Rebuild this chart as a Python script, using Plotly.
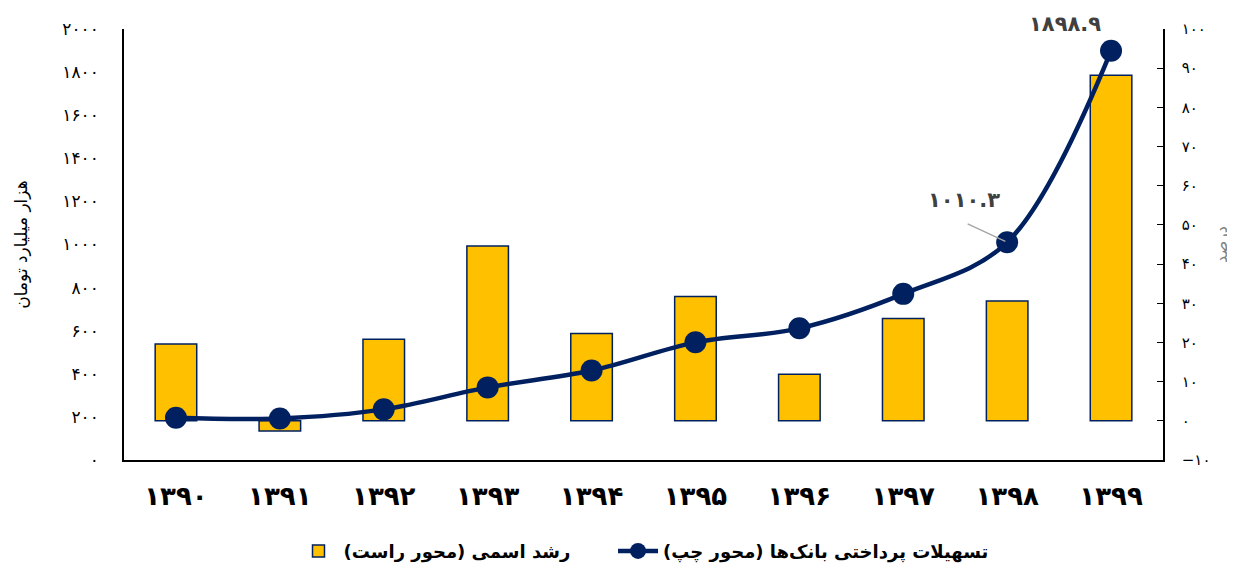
import plotly.graph_objects as go

P = str.maketrans("0123456789", "۰۱۲۳۴۵۶۷۸۹")

def fa(s):
    return str(s).translate(P)

years = ["1390", "1391", "1392", "1393", "1394", "1395", "1396", "1397", "1398", "1399"]
growth = [19.6, -2.6, 20.8, 44.6, 22.3, 31.7, 11.9, 26.1, 30.6, 88.2]
loans = [196, 193, 235, 337, 415, 546, 611, 771, 1010.3, 1898.9]

left_ticks = [0, 200, 400, 600, 800, 1000, 1200, 1400, 1600, 1800, 2000]
right_ticks = [-10, 0, 10, 20, 30, 40, 50, 60, 70, 80, 90, 100]
left_labels = [fa(v) for v in left_ticks]
right_labels = [("−" + fa(-v)) if v < 0 else fa(v) for v in right_ticks]

cats = [fa(y) for y in years]

NAVY = "#002060"
GOLD = "#FFC000"
FONT = "DejaVu Sans"

fig = go.Figure()
fig.add_trace(go.Bar(
    x=cats, y=growth, name="رشد اسمی (محور راست)" + "\u00a0" * 6,
    marker=dict(color=GOLD, line=dict(color=NAVY, width=1.5)),
    width=0.4, yaxis="y",
))
fig.add_trace(go.Scatter(
    x=cats, y=loans, name="تسهیلات پرداختی بانک‌ها (محور چپ)",
    mode="lines+markers", line=dict(color=NAVY, width=4.5, shape="spline", smoothing=1),
    marker=dict(color=NAVY, size=22), yaxis="y2",
))

fig.add_annotation(x=cats[9], y=loans[9], xref="x", yref="y2", text=fa("1898.9"),
                   showarrow=False, xshift=-46, yshift=27,
                   font=dict(family=FONT, size=21, color="#404040", weight="bold"))
fig.add_annotation(x=cats[8], y=loans[8], xref="x", yref="y2", text=fa("1010.3"),
                   showarrow=False, xshift=-43, yshift=42,
                   font=dict(family=FONT, size=21, color="#404040", weight="bold"))
fig.add_annotation(x=cats[8], y=loans[8], xref="x", yref="y2", text=" ",
                   showarrow=True, arrowhead=0, arrowwidth=1.5, arrowcolor="#A6A6A6",
                   ax=-43, ay=-20, standoff=2)

fig.update_layout(
    width=1235, height=567,
    margin=dict(l=116, r=80, t=21, b=115),
    plot_bgcolor="white", paper_bgcolor="white",
    font=dict(family=FONT, color="black"),
    xaxis=dict(type="category", range=[-0.5, 9.5], showline=True, linecolor="black", linewidth=1.5,
               ticks="", showgrid=False,
               tickfont=dict(family=FONT, size=26, color="black", weight="bold"),
               ticklabelstandoff=12),
    yaxis=dict(side="right", range=[-10, 100], tickvals=right_ticks, ticktext=right_labels,
               showline=True, linecolor="black", linewidth=1.5, ticks="inside", ticklen=6,
               tickcolor="black", showgrid=False, zeroline=False, ticklabelstandoff=14,
               tickfont=dict(family=FONT, size=15, color="black"),
               title=dict(text="درصد", font=dict(family=FONT, size=16, color="#7F7F7F"), standoff=6)),
    yaxis2=dict(side="left", overlaying="y", range=[0, 2000], tickvals=left_ticks, ticktext=left_labels,
                showline=True, linecolor="black", linewidth=1.5, ticks="", showgrid=False,
                zeroline=False, ticklabelstandoff=20,
                tickfont=dict(family=FONT, size=17, color="black"),
                title=dict(text="هزار میلیارد تومان", font=dict(family=FONT, size=17, color="black"), standoff=30)),
    legend=dict(orientation="h", x=0.5, xanchor="center", xref="paper",
                y=0.042, yanchor="middle", yref="container",
                font=dict(family=FONT, size=18, color="black", weight="bold"),
                traceorder="normal", itemwidth=40),
    showlegend=True,
)

fig.write_html("out.html")
